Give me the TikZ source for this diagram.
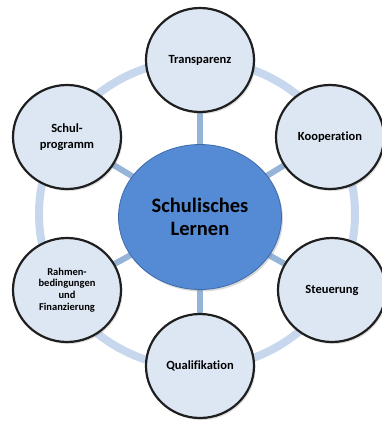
\documentclass[tikz,border=0pt]{standalone}
\usepackage{fontspec}
\setmainfont{Carlito}[Ligatures=NoCommon]
\usetikzlibrary{shapes.geometric,shadows,backgrounds}
\definecolor{kernblau}{RGB}{84,139,212}
\definecolor{kernrand}{RGB}{62,106,170}
\definecolor{feldblau}{RGB}{221,231,243}
\definecolor{ringblau}{RGB}{199,216,238}
\definecolor{speiche}{RGB}{150,180,216}
\begin{document}
\begin{tikzpicture}[x=1pt,y=-1pt,
  kern/.style={ellipse,draw=kernrand,line width=0.8pt,fill=kernblau,
    minimum width=163pt,minimum height=145pt,align=center,inner sep=0pt,
    font=\fontsize{20.5}{23}\selectfont\bfseries,
    drop shadow={opacity=0.3,shadow xshift=1.5pt,shadow yshift=-2pt}},
  feld/.style={ellipse,draw=black!88,line width=2.2pt,fill=feldblau,
    minimum width=108pt,minimum height=104pt,align=center,inner sep=0pt,
    font=\fontsize{12.5}{15.5}\selectfont\bfseries,
    drop shadow={opacity=0.25,shadow xshift=1.5pt,shadow yshift=-2pt}},
  klein/.style={font=\fontsize{10.5}{11.6}\selectfont\bfseries},
  ring/.style={draw=ringblau,line width=8pt},
  verbindung/.style={draw=speiche,line width=6pt}]
\useasboundingbox (0,0) rectangle (382,421);
\node[kern] (lernen) at (200,217) {Schulisches\\Lernen};
\node[feld] (transparenz) at (200,60) {Transparenz};
\node[feld] (kooperation) at (330,137) {Kooperation};
\node[feld] (steuerung) at (332,290) {Steuerung};
\node[feld] (qualifikation) at (200,366) {Qualifikation};
\node[feld,klein] (rahmen) at (67,290) {Rahmen-\\bedingungen\\und\\Finanzierung};
\node[feld] (programm) at (67,137) {Schul-\\programm};
\begin{scope}[on background layer]
\draw[ring] (197,214) ellipse (158 and 154);
\foreach \ziel in {transparenz,kooperation,steuerung,qualifikation,rahmen,programm}
  \draw[verbindung] (lernen.center) -- (\ziel.center);
\end{scope}
\end{tikzpicture}
\end{document}
